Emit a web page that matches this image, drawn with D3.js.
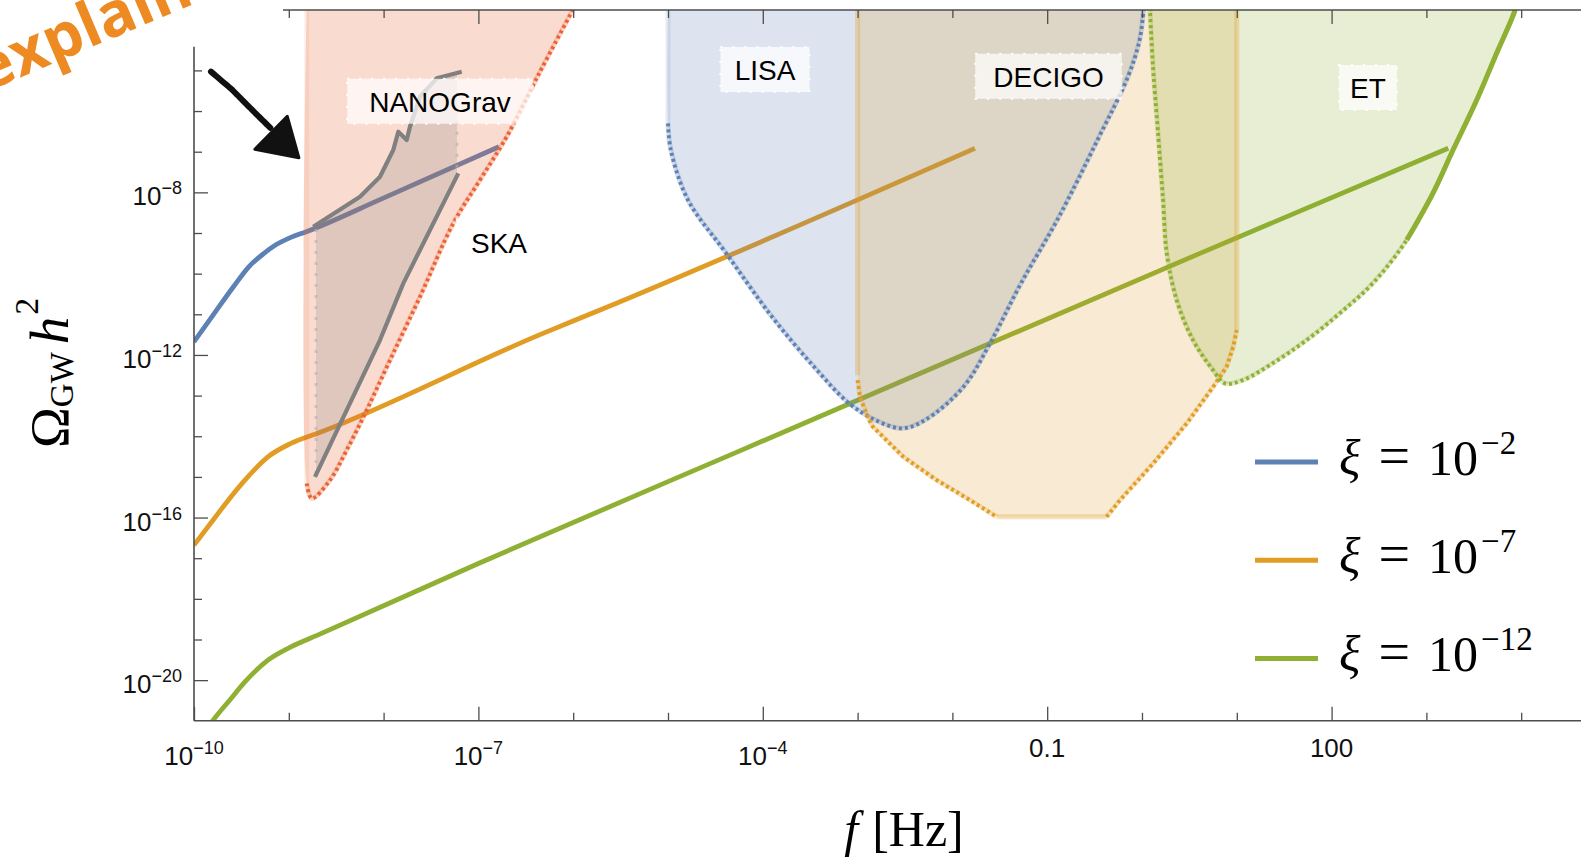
<!DOCTYPE html>
<html>
<head>
<meta charset="utf-8">
<script src="https://cdn.jsdelivr.net/npm/d3@7"></script>
<style>
  body { margin: 0; background: #fff; }
  svg { display: block; }
</style>
</head>
<body>
<div id="chart"></div>
<script>
// all points are [log10 f/Hz, log10 Omega_GW h^2]

// spectra for the three values of xi
const xiExponents = ["−2", "−7", "−12"];
const xi2 = [[-10.0,-11.676],[-9.786,-10.977],[-9.584,-10.323],[-9.422,-9.831],[-9.262,-9.501],
             [-9.140,-9.297],[-8.978,-9.107],[-8.816,-8.969],[-8.009,-8.148],[-6.783,-6.878]];
const xi7 = [[-10.0,-16.679],[-9.786,-16.022],[-9.624,-15.530],[-9.463,-15.079],[-9.220,-14.506],
             [-8.978,-14.176],[-8.655,-13.891],[-6.35,-11.50],[-5.717,-10.896],[-1.762,-6.917]];
const xi12 = [[-9.85,-21.15],[-9.806,-21.009],[-9.624,-20.493],[-9.463,-20.042],[-9.220,-19.508],
              [-8.978,-19.181],[-8.696,-18.893],[-7.0,-17.129],[-4.224,-14.341],[0.612,-9.501],[3.231,-6.917]];

// detector sensitivity curves
const skaLeft = -8.811;
const skaEdge = [[-8.811,-15.160],[-8.758,-15.530],[-8.565,-15.079],[-8.389,-14.341],[-8.178,-13.357],
                 [-7.932,-12.126],[-7.616,-10.569],[-7.265,-8.763],[-6.983,-7.697],[-6.701,-6.632],
                 [-6.368,-5.114],[-6.005,-3.514],[-5.956,-3.3]];

const nanoLeft = -8.713, nanoRight = -7.226;
const nanoUpper = [[-8.742,-8.846],[-8.249,-8.108],[-8.038,-7.616],[-7.898,-6.959],[-7.845,-6.509],
                   [-7.756,-6.713],[-7.722,-6.386],[-7.616,-5.648],[-7.440,-5.195],[-7.176,-5.033]];
const nanoLower = [[-7.212,-7.532],[-7.792,-10.239],[-8.038,-11.634],[-8.389,-13.357],[-8.724,-14.998]];

const lisaLeft = -5.0;
const lisaEdge = [[-5.0,-6.302],[-4.970,-6.959],[-4.789,-8.189],[-4.388,-9.494],[-3.903,-11.061],
                  [-3.460,-12.291],[-3.093,-13.185],[-2.811,-13.603],[-2.532,-13.807],[-2.289,-13.603],
                  [-1.882,-12.783],[-1.603,-11.716],[-1.276,-10.239],[-0.875,-8.600],[-0.469,-6.713],
                  [-0.148,-5.156],[-0.025,-4.253],[0.016,-3.514],[0.024,-3.3]];

const decigoLeft = -3.0, decigoRight = 1.0;
const decigoEdgeA = [[-3.0,-12.619],[-2.975,-13.030],[-2.887,-13.561],[-2.838,-13.768],[-2.518,-14.506],
                     [-2.166,-15.079],[-1.814,-15.571],[-1.533,-15.982]];
const decigoEdgeB = [[-0.373,-15.982],[-0.232,-15.571],[0.119,-14.668],[0.472,-13.684],[0.752,-12.783],
                     [0.893,-12.291],[0.963,-11.799],[1.0,-11.388]];

const etEdge = [[0.080,-3.3],[0.084,-3.514],[0.116,-4.909],[0.169,-6.541],[0.222,-8.189],[0.261,-9.494],
                [0.366,-10.650],[0.538,-11.634],[0.749,-12.372],[0.876,-12.700],[1.065,-12.619],
                [1.382,-12.200],[1.738,-11.634],[2.089,-10.970],[2.437,-10.232],[2.792,-9.174],
                [3.070,-8.017],[3.281,-6.959],[3.531,-5.729],[3.742,-4.572],[3.935,-3.514],[3.95,-3.3]];

// detector labels
const detectorNames = ["NANOGrav", "SKA", "LISA", "DECIGO", "ET"];
const labelLogF = [-7.405, -6.783, -3.977, -0.986, 2.384];
const labelLogOmega = [-5.771, -9.235, -4.991, -5.156, -5.434];

// ticks
const xTickExp = d3.range(-10, 5);
const xLabelExp = [-10, -7, -4, -1, 2];
const xLabelBase = ["10", "10", "10", "0.1", "100"];
const xLabelSup = ["−10", "−7", "−4", "", ""];
const yTickExp = d3.range(-20, -4);
const yLabelExp = [-8, -12, -16, -20];
const yLabelSup = ["−8", "−12", "−16", "−20"];

// hand drawn arrow
const arrowShaft = [[-9.821,-5.030],[-9.60,-5.47],[-9.40,-5.94],[-9.195,-6.415]];
const arrowHead = [[-9.358,-6.942],[-9.016,-6.129],[-8.894,-7.148]];

// ---------------------------------------------------------------
const W = 1581, H = 860;
const blue = "#5E81B5", orange = "#E19C24", green = "#8FB032", red = "#EB6235", grey = "#808080";
const curveColors = [blue, orange, green];
const sans = "'Liberation Sans', Arial, sans-serif";
const serif = "'Liberation Serif', 'Times New Roman', serif";

const svg = d3.select("#chart").append("svg")
    .attr("width", W)
    .attr("height", H);

const x = d3.scaleLog().domain([1e-10, Math.pow(10, 4.631)]).range([194, 1581]);
const y = d3.scaleLog().domain([1e-21, Math.pow(10, -3.514)]).range([720.8, 10]);
const px = d => x(Math.pow(10, d[0]));
const py = d => y(Math.pow(10, d[1]));

svg.append("defs").append("clipPath").attr("id", "plotClip")
    .append("rect")
    .attr("x", x.range()[0]).attr("y", y.range()[1])
    .attr("width", x.range()[1] - x.range()[0])
    .attr("height", y.range()[0] - y.range()[1]);

const g = svg.append("g").attr("clip-path", "url(#plotClip)");

const lineLin = d3.line().x(px).y(py);
const lineSmooth = d3.line().x(px).y(py).curve(d3.curveCatmullRom.alpha(0.5));
const lineMono = d3.line().x(px).y(py).curve(d3.curveMonotoneX);

// spectra first, the detector areas are laid over them
[xi2, xi7, xi12].forEach((s, i) => {
    g.append("path")
        .attr("d", lineMono(s))
        .attr("fill", "none")
        .attr("stroke", curveColors[i])
        .attr("stroke-width", 4.8);
});

// filled areas
const skaPoly = [[skaLeft, -3.3]].concat(skaEdge);
const nanoPoly = [[nanoLeft, -8.83]].concat(nanoUpper.slice(1, 9), [[nanoRight, -5.06], [nanoRight, -7.53]],
    nanoLower.slice(1), [[nanoLeft, -14.97]]);
const lisaPoly = [[lisaLeft, -3.3]].concat(lisaEdge);
const decigoPoly = [[decigoLeft, -3.3]].concat(decigoEdgeA, decigoEdgeB, [[decigoRight, -3.3]]);

g.append("path").attr("d", lineSmooth(skaPoly) + "Z").attr("fill", red).attr("fill-opacity", 0.23);
g.append("path").attr("d", lineLin(nanoPoly) + "Z").attr("fill", grey).attr("fill-opacity", 0.22);
g.append("path").attr("d", lineSmooth(lisaPoly) + "Z").attr("fill", blue).attr("fill-opacity", 0.21);
g.append("path").attr("d", lineLin(decigoPoly) + "Z").attr("fill", orange).attr("fill-opacity", 0.2);
g.append("path").attr("d", lineSmooth(etEdge) + "Z").attr("fill", green).attr("fill-opacity", 0.21);

function faint(pts, color, gen, op) {
    g.append("path")
        .attr("d", (gen || lineLin)(pts))
        .attr("fill", "none")
        .attr("stroke", color)
        .attr("stroke-opacity", op || 0.25)
        .attr("stroke-width", 5);
}
function dotted(pts, color, gen) {
    faint(pts, color, gen);
    g.append("path")
        .attr("d", (gen || lineLin)(pts))
        .attr("fill", "none")
        .attr("stroke", color)
        .attr("stroke-width", 3.8)
        .attr("stroke-dasharray", "3,3");
}

// SKA
faint([[skaLeft, -3.3], [skaLeft, -15.16]], red, null, 0.1);
dotted(skaEdge, red, lineSmooth);

// LISA
faint([[lisaLeft, -3.3], lisaEdge[0]], blue, null, 0.15);
dotted(lisaEdge, blue, lineSmooth);

// DECIGO
faint([[decigoLeft, -3.3], [decigoLeft, -12.5]], orange, null, 0.3);
faint([[decigoRight, -3.3], [decigoRight, -11.388]], orange, null, 0.3);
faint([decigoEdgeA[decigoEdgeA.length - 1], decigoEdgeB[0]], orange, null, 0.3);
dotted(decigoEdgeA, orange);
dotted(decigoEdgeB, orange);

// ET, its upper right flank is drawn nearly solid
dotted(etEdge, green, lineSmooth);
g.append("path")
    .attr("d", lineSmooth(etEdge.filter(d => d[0] > 2.75)))
    .attr("fill", "none")
    .attr("stroke", green)
    .attr("stroke-width", 5);

// NANOGrav
[[[nanoLeft, -8.9], [nanoLeft, -14.95]], [[nanoRight, -5.97], [nanoRight, -7.53]]].forEach(seg => {
    g.append("path")
        .attr("d", lineLin(seg))
        .attr("stroke", "#b0b0b0")
        .attr("stroke-width", 3)
        .attr("stroke-opacity", 0.6)
        .attr("stroke-dasharray", "3,8");
});
[nanoUpper, nanoLower].forEach(s => {
    g.append("path")
        .attr("d", lineLin(s))
        .attr("fill", "none")
        .attr("stroke", grey)
        .attr("stroke-width", 4.2)
        .attr("stroke-linejoin", "round");
});

// labels
const labelPad = {NANOGrav: 22, SKA: 15, LISA: 14, DECIGO: 18, ET: 11};
detectorNames.forEach((name, i) => {
    const lg = g.append("g")
        .attr("transform", `translate(${x(Math.pow(10, labelLogF[i]))},${y(Math.pow(10, labelLogOmega[i]))})`);
    const box = lg.append("rect");
    const t = lg.append("text")
        .attr("text-anchor", "middle")
        .attr("dy", "0.36em")
        .attr("font-family", sans)
        .attr("font-size", 28)
        .attr("fill", "#000")
        .text(name);
    const bb = t.node().getBBox();
    const p = labelPad[name];
    box.attr("x", -bb.width / 2 - p)
        .attr("y", -23)
        .attr("width", bb.width + 2 * p)
        .attr("height", 45)
        .attr("fill", "#fff")
        .attr("fill-opacity", 0.72)
        .attr("stroke", "#fff")
        .attr("stroke-dasharray", "2,10")
        .attr("stroke-width", 2);
});

// ---- axes ----
const axisColor = "#4d4d4d";
const x0 = x.range()[0], x1 = x.range()[1];
const yBottom = y.range()[0], yTop = y.range()[1];

// bottom
svg.append("g").attr("transform", `translate(0,${yBottom})`)
    .call(d3.axisBottom(x).tickValues(xTickExp.filter(e => !xLabelExp.includes(e)).map(e => Math.pow(10, e)))
        .tickSize(-8).tickFormat(""))
    .call(a => a.select(".domain").remove());
svg.append("g").attr("transform", `translate(0,${yBottom})`)
    .call(d3.axisBottom(x).tickValues(xLabelExp.map(e => Math.pow(10, e))).tickSize(-14).tickFormat(""))
    .call(a => a.select(".domain").remove());

// top (starts right of the overlay)
const topStart = 283;
svg.append("g").attr("transform", `translate(0,${yTop})`)
    .call(d3.axisTop(x).tickValues(xTickExp.filter(e => e > -10 && !xLabelExp.includes(e)).map(e => Math.pow(10, e)))
        .tickSize(-8).tickFormat(""))
    .call(a => a.select(".domain").remove());
svg.append("g").attr("transform", `translate(0,${yTop})`)
    .call(d3.axisTop(x).tickValues(xLabelExp.filter(e => e > -10).map(e => Math.pow(10, e))).tickSize(-14).tickFormat(""))
    .call(a => a.select(".domain").remove());

// left
const yAxisTop = y(Math.pow(10, -4.417));
svg.append("g").attr("transform", `translate(${x0},0)`)
    .call(d3.axisLeft(y).tickValues(yTickExp.filter(e => !yLabelExp.includes(e)).map(e => Math.pow(10, e)))
        .tickSize(-8).tickFormat(""))
    .call(a => a.select(".domain").remove());
svg.append("g").attr("transform", `translate(${x0},0)`)
    .call(d3.axisLeft(y).tickValues(yLabelExp.map(e => Math.pow(10, e))).tickSize(-14).tickFormat(""))
    .call(a => a.select(".domain").remove());

svg.selectAll(".tick line").attr("stroke", axisColor).attr("stroke-width", 1.3);

svg.append("line").attr("x1", x0).attr("x2", x1).attr("y1", yBottom).attr("y2", yBottom)
    .attr("stroke", axisColor).attr("stroke-width", 1.6);
svg.append("line").attr("x1", topStart).attr("x2", x1).attr("y1", yTop).attr("y2", yTop)
    .attr("stroke", axisColor).attr("stroke-width", 1.6);
svg.append("line").attr("x1", x0).attr("x2", x0).attr("y1", yAxisTop).attr("y2", yBottom)
    .attr("stroke", axisColor).attr("stroke-width", 1.6);

// tick labels
xLabelExp.forEach((e, i) => {
    const t = svg.append("text")
        .attr("x", x(Math.pow(10, e)))
        .attr("y", yBottom + (xLabelSup[i] ? 44 : 36))
        .attr("text-anchor", "middle")
        .attr("font-family", sans)
        .attr("font-size", 26)
        .attr("fill", "#111");
    t.append("tspan").text(xLabelBase[i]);
    if (xLabelSup[i]) t.append("tspan").attr("dy", -11).attr("font-size", 18).text(xLabelSup[i]);
});
yLabelExp.forEach((e, i) => {
    const t = svg.append("text")
        .attr("x", x0 - 12)
        .attr("y", y(Math.pow(10, e)) + 13)
        .attr("text-anchor", "end")
        .attr("font-family", sans)
        .attr("font-size", 26)
        .attr("fill", "#111");
    t.append("tspan").text("10");
    t.append("tspan").attr("dy", -11).attr("font-size", 18).text(yLabelSup[i]);
});

// axis titles
const yt = svg.append("text")
    .attr("transform", "translate(68,448) rotate(-90)")
    .attr("font-family", serif)
    .attr("font-size", 55)
    .attr("fill", "#000");
yt.append("tspan").text("Ω");
yt.append("tspan").attr("font-size", 33).attr("dy", 5).text("GW");
yt.append("tspan").attr("dx", 8).attr("dy", -5).attr("font-style", "italic").text("h");
yt.append("tspan").attr("font-size", 34).attr("dx", 2).attr("dy", -30).text("2");

const xt = svg.append("text")
    .attr("x", 904)
    .attr("y", 846)
    .attr("text-anchor", "middle")
    .attr("font-family", serif)
    .attr("font-size", 50)
    .attr("fill", "#000");
xt.append("tspan").attr("font-style", "italic").text("f");
xt.append("tspan").attr("dx", 14).text("[Hz]");

// legend
const legX = 1255, legY = 462, legStep = 98.2;
xiExponents.forEach((ex, i) => {
    const ly = legY + i * legStep;
    svg.append("line")
        .attr("x1", legX).attr("x2", legX + 63)
        .attr("y1", ly).attr("y2", ly)
        .attr("stroke", curveColors[i])
        .attr("stroke-width", 5);
    const t = svg.append("text")
        .attr("x", legX + 84)
        .attr("y", ly + 13)
        .attr("font-family", serif)
        .attr("font-size", 50)
        .attr("fill", "#000");
    t.append("tspan").attr("font-style", "italic").text("ξ");
    t.append("tspan").attr("dx", 18).attr("font-size", 56).text("=");
    t.append("tspan").attr("dx", 18).text("10");
    t.append("tspan").attr("dx", 3).attr("dy", -21).attr("font-size", 33).text(ex);
});

// arrow annotation
svg.append("path")
    .attr("d", lineLin(arrowShaft))
    .attr("fill", "none")
    .attr("stroke", "#111")
    .attr("stroke-width", 6)
    .attr("stroke-dasharray", "5,1")
    .attr("stroke-linecap", "round");
svg.append("path")
    .attr("d", lineLin(arrowHead) + "Z")
    .attr("fill", "#111")
    .attr("stroke", "#111")
    .attr("stroke-width", 3)
    .attr("stroke-linejoin", "round");

// slide overlay text
svg.append("text")
    .attr("transform", "translate(-14,92) rotate(-23)")
    .attr("font-family", "'Open Sans', sans-serif")
    .attr("font-weight", 700)
    .attr("font-size", 62)
    .attr("fill", "#EE8A22")
    .text("explain");
</script>
</body>
</html>
